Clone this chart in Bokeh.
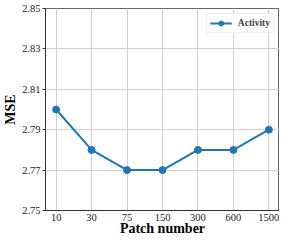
from bokeh.plotting import figure
from bokeh.models import FixedTicker, Range1d, Legend, LegendItem
from bokeh.embed import file_html
from bokeh.resources import INLINE

patch_labels = ["10", "30", "75", "150", "300", "600", "1500"]
mse = [2.80, 2.78, 2.77, 2.77, 2.78, 2.78, 2.79]
y_ticks = [2.75, 2.77, 2.79, 2.81, 2.83, 2.85]

xs = list(range(len(patch_labels)))
FONT = "Liberation Serif"
COLOR = "#1f77b4"

p = figure(width=279, height=238, output_backend="svg", toolbar_location=None,
           x_range=Range1d(-0.3, len(patch_labels) - 0.7), y_range=Range1d(2.75, 2.85),
           min_border_left=2, min_border_right=0, min_border_top=8, min_border_bottom=0)

r_line = p.line(xs, mse, line_color=COLOR, line_width=2)
r_pts = p.scatter(xs, mse, size=7, fill_color=COLOR, line_color=COLOR)

p.xaxis.ticker = FixedTicker(ticks=xs)
p.xaxis.major_label_overrides = {i: lab for i, lab in enumerate(patch_labels)}
p.yaxis.ticker = FixedTicker(ticks=y_ticks)
p.yaxis.major_label_overrides = {t: f"{t:.2f}" for t in y_ticks}

for ax in (p.xaxis[0], p.yaxis[0]):
    ax.major_label_text_font = FONT
    ax.major_label_text_font_size = "10.5px"
    ax.major_label_text_color = "#222222"
    ax.axis_label_text_font = FONT
    ax.axis_label_text_font_style = "bold"
    ax.axis_label_text_font_size = "14px"
    ax.axis_label_text_color = "black"
    ax.axis_line_color = "#333333"
    ax.major_tick_line_color = "#333333"
    ax.major_tick_in = 0
    ax.minor_tick_line_color = None
    ax.axis_label_standoff = 1
    ax.major_label_standoff = 2

p.yaxis.major_tick_out = 3
p.xaxis.major_tick_out = 0
p.xaxis.major_label_standoff = 3
p.xaxis.axis_label_standoff = -3

p.xaxis.axis_label = "Patch number"
p.yaxis.axis_label = "MSE"

p.xgrid.ticker = FixedTicker(ticks=xs)
p.ygrid.ticker = FixedTicker(ticks=y_ticks)
p.grid.grid_line_color = "#d0d0d0"
p.grid.grid_line_width = 1
p.outline_line_color = "#666666"
p.outline_line_width = 1

legend = Legend(items=[LegendItem(label="Activity", renderers=[r_line, r_pts])],
                location="top_right")
legend.label_text_font = FONT
legend.label_text_font_style = "bold"
legend.label_text_font_size = "9.5px"
legend.glyph_width = 22
legend.glyph_height = 12
legend.label_standoff = 6
legend.padding = 3
legend.margin = 5
legend.spacing = 0
legend.border_line_color = "#dddddd"
legend.border_line_width = 1
legend.background_fill_alpha = 0.9
p.add_layout(legend)

open("out.html", "w").write(file_html(p, INLINE))
